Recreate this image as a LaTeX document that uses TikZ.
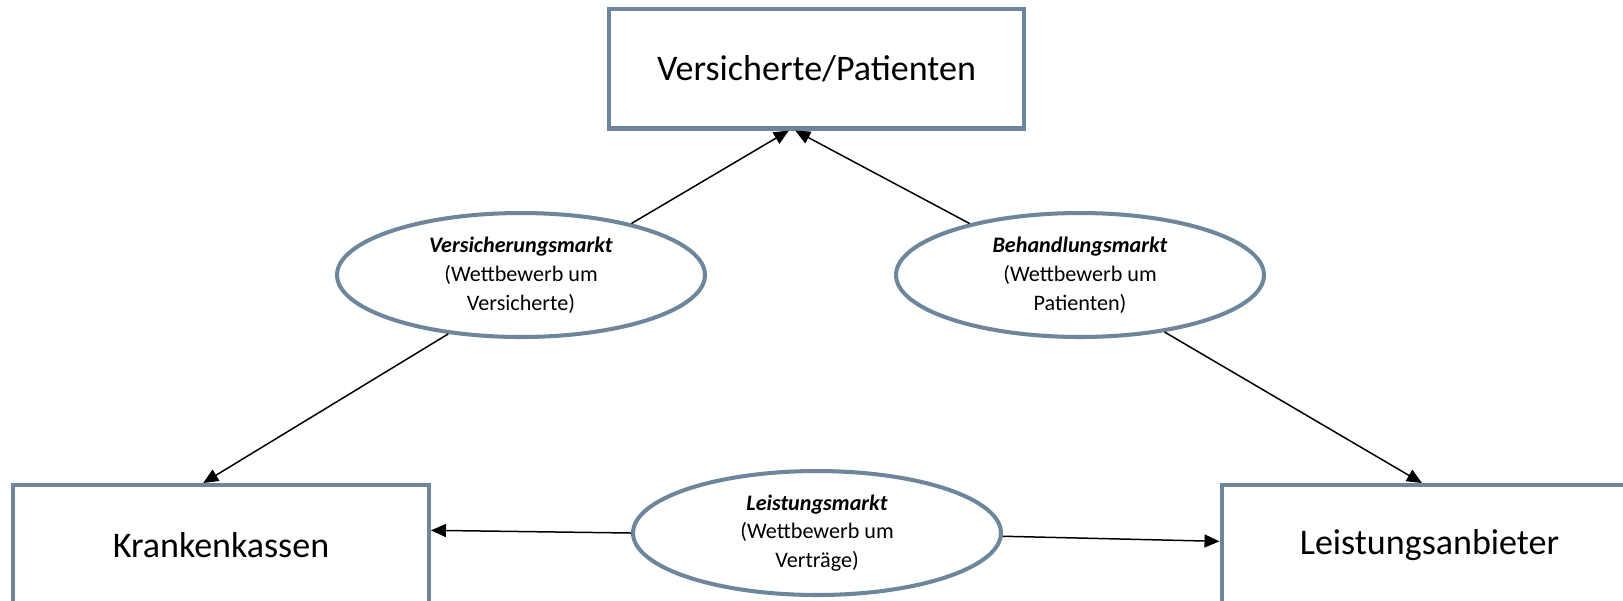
\documentclass[tikz,border=0pt]{standalone}
\usepackage{fontspec}
\setmainfont{Carlito}
\usetikzlibrary{arrows.meta,shapes.geometric}
\definecolor{frameblue}{RGB}{109,134,156}

\begin{document}
\begin{tikzpicture}[
  x=0.02cm, y=-0.02cm,
  every node/.style={draw=frameblue, line width=2.3pt, align=center, inner sep=0pt, fill=white},
  actor/.style={rectangle, minimum width=8.32cm, minimum height=2.4cm, font=\fontsize{20.5}{24}\selectfont},
  market/.style={ellipse, minimum width=7.36cm, minimum height=2.48cm, font=\fontsize{12.6}{16.4}\selectfont},
  link/.style={line width=0.85pt, ->},
  >={Triangle[length=0.3cm,width=0.26cm]}
]
\useasboundingbox (0,0) rectangle (1623,600);

\node[actor] (versicherte) at (816.5,68.5) {Versicherte/Patienten};
\node[actor] (kassen)      at (221,545)    {Krankenkassen};
\node[actor] (anbieter)    at (1429.5,545) {Leistungsanbieter};

\node[market] (vmarkt) at (521,275)  {\textbf{\textit{Versicherungsmarkt}}\\(Wettbewerb um\\Versicherte)};
\node[market] (bmarkt) at (1080,275) {\textbf{\textit{Behandlungsmarkt}}\\(Wettbewerb um\\Patienten)};
\node[market] (lmarkt) at (817,533)  {\textbf{\textit{Leistungsmarkt}}\\(Wettbewerb um\\Verträge)};

\draw[link] (vmarkt.25)    -- (versicherte.246);
\draw[link] (bmarkt.155)   -- (versicherte.251);
\draw[link] (vmarkt.219)   -- (kassen.106);
\draw[link] (bmarkt.326)   -- (anbieter.97);
\draw[link] (lmarkt.west)  -- (kassen.4.7);
\draw[link] (lmarkt.-1.5)  -- (anbieter.179);
\end{tikzpicture}
\end{document}
